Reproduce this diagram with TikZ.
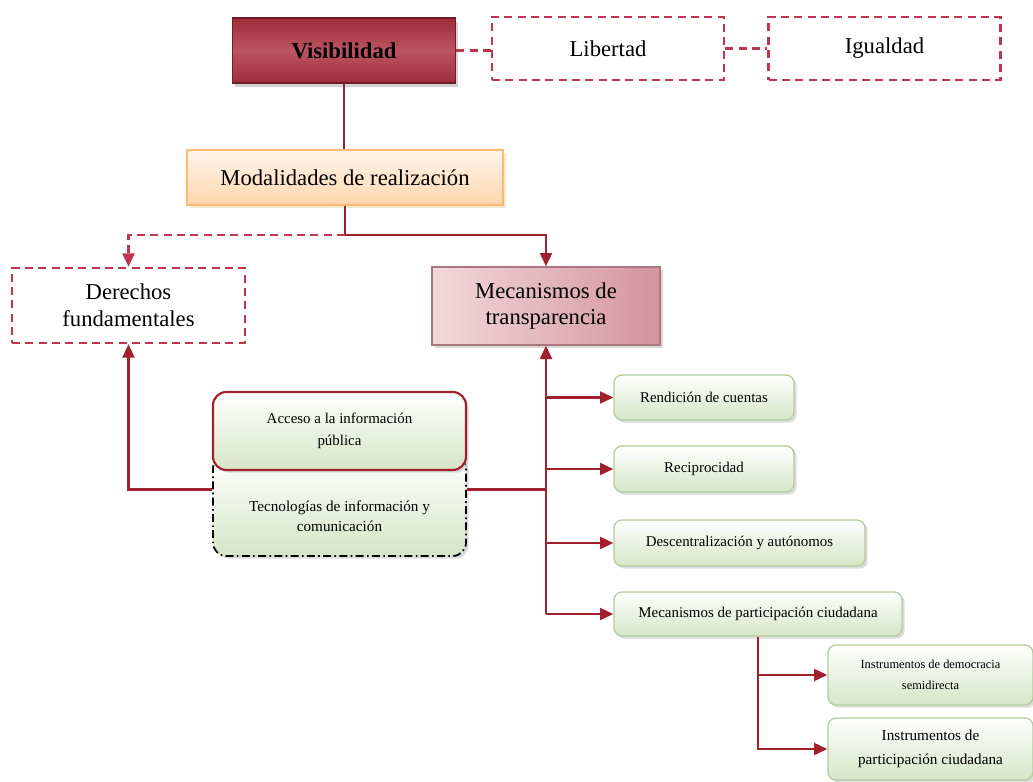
\documentclass[tikz,border=0pt]{standalone}
\usepackage{fontspec}
\setmainfont{Liberation Serif}
\usetikzlibrary{arrows.meta,shadows}

\definecolor{linered}{HTML}{A1202E}
\definecolor{dashred}{HTML}{C0344E}
\definecolor{visred}{HTML}{A02C3B}
\definecolor{vislight}{HTML}{BC5463}
\definecolor{greenedge}{HTML}{B2CC9C}
\definecolor{greenlow}{HTML}{D6E5C6}
\definecolor{meclight}{HTML}{F2D9DC}
\definecolor{mecdark}{HTML}{D493A0}

\begin{document}
\begin{tikzpicture}[x=0.75pt,y=-0.75pt,
    conn/.style={draw=linered, line width=1.6pt},
    arr/.style={conn, -{Triangle[length=10pt,width=9pt]}},
    dashconn/.style={draw=dashred, line width=1.9pt, dash pattern=on 6pt off 4pt},
    dashbox/.style={draw=dashred, line width=1.9pt, dash pattern=on 6pt off 4pt,
      fill=white, align=center, font=\fontsize{17}{20}\selectfont},
    greenbox/.style={rounded corners=6pt, draw=greenedge, line width=1pt,
      top color=white, bottom color=greenlow, align=center,
      drop shadow={shadow xshift=2pt, shadow yshift=-2pt, fill=gray!55},
      font=\fontsize{11.2}{16.5}\selectfont}]

  \useasboundingbox (0,0) rectangle (1033,782);

  % top row
  \node[draw=visred!70!black, line width=1pt, top color=visred, bottom color=visred,
    middle color=vislight,
    drop shadow={shadow xshift=2pt, shadow yshift=-3pt, fill=gray!70},
    minimum width=167.25pt, minimum height=48.75pt,
    font=\fontsize{17}{20}\selectfont\bfseries] (vis) at (344,50.5) {Visibilidad};
  \begin{scope}[every node/.style={dashbox, minimum width=174pt, minimum height=47.25pt}]
    \node (lib) at (608,48.5) {Libertad};
    \node (igu) at (884.5,48.5) {Igualdad};
  \end{scope}

  \node[draw=orange!55, line width=1pt, top color=orange!8, bottom color=orange!32,
    drop shadow={shadow xshift=2pt, shadow yshift=-2pt, fill=yellow!50!gray!60},
    minimum width=237pt, minimum height=41.25pt,
    font=\fontsize{17}{20}\selectfont] (mod) at (345,177.5) {Modalidades de realización};

  % second row
  \node[dashbox, minimum width=174.75pt, minimum height=56.25pt]
    (der) at (128.5,305.5) {Derechos\\fundamentales};
  \node[draw=mecdark!80!black, line width=1pt, left color=meclight, right color=mecdark,
    drop shadow={shadow xshift=2pt, shadow yshift=-2pt, fill=gray!60},
    minimum width=171pt, minimum height=58.5pt, align=center,
    font=\fontsize{17}{20}\selectfont] (mec) at (546,306) {Mecanismos de\\transparencia};

  % middle group
  \node[greenbox, draw=black, dash pattern=on 6pt off 2.5pt on 1.2pt off 2.5pt,
    line width=1.3pt, rounded corners=10pt,
    minimum width=189.75pt, minimum height=75.75pt] (tec) at (339.5,505.5) {};
  \node[font=\fontsize{11.4}{15}\selectfont, align=center] (tectext) at (339.5,516)
    {Tecnologías de información y\\comunicación};
  \node[greenbox, draw=linered, line width=1.6pt, rounded corners=10pt,
    minimum width=189.75pt, minimum height=58.5pt] (acc) at (339.5,431)
    {Acceso a la información\\pública};

  % right column
  \begin{scope}[every node/.style={greenbox}]
    \node[minimum width=135pt, minimum height=33.75pt] (ren) at (704,397.5) {Rendición de cuentas};
    \node[minimum width=135pt, minimum height=34.5pt] (rec) at (704,469) {Reciprocidad};
    \node[minimum width=188.25pt, minimum height=34.5pt] (des) at (739.5,543) {Descentralización y autónomos};
    \node[minimum width=216pt, minimum height=33pt] (mpc) at (758,614) {Mecanismos de participación ciudadana};
    \node[minimum width=153.75pt, minimum height=45pt, font=\fontsize{9.3}{16}\selectfont]
      (ids) at (930.5,675) {Instrumentos de democracia\\semidirecta};
    \node[minimum width=153.75pt, minimum height=46.5pt, font=\fontsize{11.4}{18}\selectfont]
      (ipc) at (930.5,749) {Instrumentos de\\participación ciudadana};
  \end{scope}

  % connectors
  \draw[dashconn] (vis.east) -- (vis.east -| lib.west);
  \draw[dashconn] (lib.east) -- (igu.west);
  \draw[conn] (vis.south) -- (vis.south |- mod.north);

  \coordinate (split) at (345,235);
  \draw[conn] (mod.south) -- (split);
  \draw[arr] (split) -| (mec.north);
  \draw[dashconn, -{Triangle[length=10pt,width=9pt]}] (split) -| (der.north);

  \draw[arr] ([yshift=12pt]tec.west) -| (der.south);
  \draw[conn] ([yshift=12pt]tec.east) -- ([yshift=12pt]tec.east -| mec.south);
  \draw[arr] (mpc.west -| mec.south) -- (mec.south);
  \foreach \n in {ren,rec,des,mpc}
    \draw[arr] (\n.west -| mec.south) -- (\n.west);

  \draw[arr] (mpc.south) |- (ipc.west);
  \draw[arr] (mpc.south |- ids.west) -- (ids.west);

\end{tikzpicture}
\end{document}
